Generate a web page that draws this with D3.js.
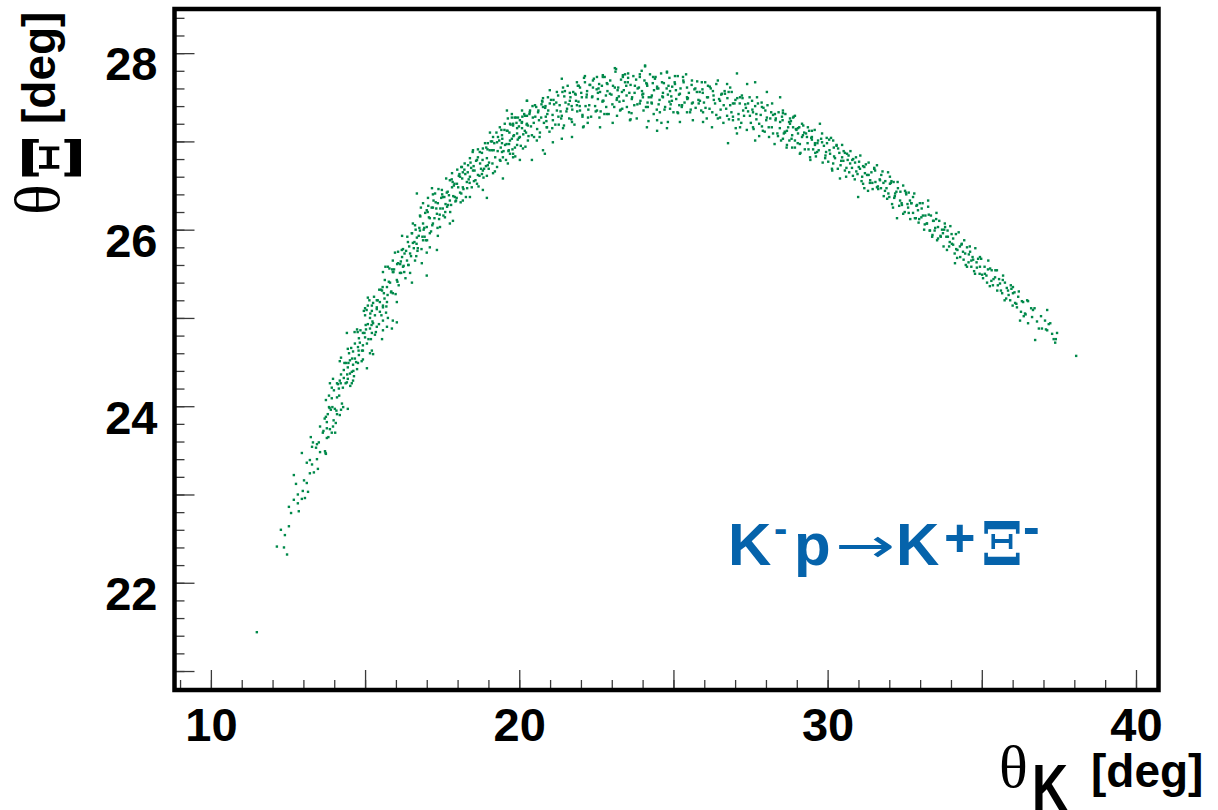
<!doctype html>
<html lang="en">
<head>
  <meta charset="utf-8">
  <title>theta Xi vs theta K</title>
  <script src="https://d3js.org/d3.v7.min.js"></script>
  <style>
    body { margin: 0; background: #fff; }
    svg { display: block; }
  </style>
</head>
<body>
  <script type="text/javascript">
    // scatter points: [thetaK, thetaXi] in degrees
    var events = [
      [11.49,21.44],
      [12.47,22.32],[12.14,22.41],[12.37,22.40],[12.27,22.60],[12.40,22.54],[12.53,22.64],[12.60,22.79],[12.85,22.81],[12.53,22.86],[12.69,22.94],
      [12.82,22.90],[12.95,22.95],[13.05,22.96],[12.82,23.00],[12.98,23.04],[13.15,23.03],[12.76,23.12],[13.02,23.16],[13.11,23.13],[12.69,23.22],
      [13.21,23.24],[13.34,23.25],[13.47,23.29],[13.28,23.34],[13.44,23.40],[13.11,23.36],[13.21,23.39],[12.95,23.47],[13.70,23.49],[13.73,23.46],
      [13.54,23.48],[13.41,23.53],[13.28,23.54],[13.44,23.57],[13.31,23.59],[13.50,23.59],[13.24,23.65],[13.76,23.64],[13.63,23.70],[13.86,23.74],
      [13.54,23.77],[13.76,23.82],[13.96,23.77],[14.05,23.81],[13.92,23.70],[13.79,23.91],[13.73,23.88],[14.09,23.91],[14.18,23.90],[13.89,23.96],
      [14.02,23.97],[13.83,23.99],[14.22,23.96],[14.44,23.97],[13.73,24.07],[13.92,24.09],[14.09,24.10],[13.83,24.12],[13.99,24.18],[14.15,24.20],
      [13.92,24.21],[14.28,24.21],[14.09,24.26],[13.86,24.26],[13.96,24.31],[14.18,24.29],[14.31,24.32],[14.22,24.36],[14.44,24.31],[14.57,24.26],
      [14.41,24.27],[14.61,24.29],[14.64,24.34],[14.51,24.37],[14.31,24.41],[14.57,24.39],[14.74,24.42],[14.44,24.44],[14.61,24.47],[14.77,24.49],
      [14.38,24.49],[14.18,24.51],[14.51,24.52],[14.67,24.54],[14.22,24.55],[14.93,24.53],[15.06,24.43],[14.80,24.58],[14.48,24.60],[14.61,24.62],
      [14.90,24.63],[14.44,24.65],[14.77,24.67],[14.93,24.69],[14.67,24.71],[14.83,24.72],[15.06,24.71],[15.22,24.63],[15.26,24.59],[15.16,24.60],
      [14.80,24.77],[15.00,24.78],[15.19,24.76],[14.93,24.83],[15.22,24.83],[15.32,24.81],[15.55,24.76],[14.41,24.83],[14.74,24.87],[15.03,24.87],
      [15.16,24.88],[15.38,24.90],[15.58,24.86],[15.09,24.93],[15.26,24.94],[15.45,24.93],[15.71,24.90],[15.87,24.88],[15.58,24.97],[15.74,25.00],
      [15.16,25.00],[15.32,25.03],[15.00,25.03],[15.48,25.07],[15.68,25.06],[14.96,25.08],[15.22,25.08],[15.38,25.12],[15.09,25.14],[15.58,25.14],
      [16.03,24.95],[15.90,24.97],[15.48,25.18],[15.26,25.17],[15.71,25.18],[16.03,25.18],
      [15.09,25.23],[15.38,25.20],[15.22,25.14],[15.58,25.12],[15.00,25.11],[15.55,25.31],[15.71,25.35],[15.90,25.28],[15.81,25.40],[15.64,25.43],
      [16.03,25.43],[16.13,25.51],[15.90,25.52],[15.58,25.52],[15.74,25.58],[16.23,25.58],[16.46,25.51],[16.52,25.40],[16.07,25.62],[16.36,25.65],
      [15.90,25.65],[16.62,25.65],[17.00,25.48],[16.84,25.62],[16.20,25.69],[16.46,25.73],[15.97,25.74],[16.23,25.78],[16.71,25.79],[17.00,25.74],
      [17.10,25.80],[17.33,25.77],[16.55,25.85],[16.39,25.86],[16.88,25.88],[16.68,25.91],[16.20,25.93],[17.10,25.96],[17.36,25.93],[16.52,25.96],
      [16.78,25.99],[17.00,26.03],[16.62,26.05],[17.20,26.07],[16.88,26.07],[17.43,26.03],[17.10,26.13],[16.78,26.16],[17.33,26.18],[17.59,26.14],
      [17.75,26.07],[17.85,26.10],[17.00,26.22],[17.20,26.25],[17.52,26.24],[17.36,26.30],[17.69,26.28],[16.88,26.30],[17.75,26.33],[17.04,26.36],
      [17.52,26.37],[17.91,26.37],[18.17,26.33],[16.68,26.41],[17.27,26.41],[17.65,26.42],[18.08,26.42],[18.40,26.37],[17.17,26.47],[17.49,26.45],
      [17.82,26.48],[18.17,26.48],[17.98,26.52],[17.75,26.56],[18.30,26.54],[18.63,26.52],[18.82,26.45],[18.95,26.36],[18.08,26.60],[18.40,26.60],
      [17.82,26.64],[18.17,26.65],[18.66,26.62],[18.50,26.67],[18.82,26.67],[19.15,26.64],[19.47,26.58],[18.14,26.71],[18.34,26.73],[18.73,26.75],
      [18.98,26.73],[19.28,26.71],[18.40,26.81],[18.66,26.82],[18.95,26.81],[19.37,26.79],[19.63,26.75],[19.80,26.82],[18.50,26.90],[18.82,26.92],
      [19.11,26.90],[19.44,26.88],[19.70,26.86],[18.98,26.98],[19.28,26.99],[19.54,26.96],[19.93,26.96],[20.12,26.92],[19.15,27.05],[19.44,27.07],
      [19.76,27.03],[20.02,27.05],[20.28,27.01],[19.05,27.10],[19.60,27.12],[19.93,27.15],[20.18,27.12],[19.37,27.16],[19.80,27.20],[20.09,27.22],
      [20.28,27.18],[19.63,27.26],[19.96,27.27],[20.25,27.29],[19.76,27.31],[20.09,27.35],[20.25,27.46],[19.60,27.35],
      [19.47,26.82],[19.66,26.90],[19.44,26.98],[19.70,27.01],[19.86,26.93],[19.68,27.10],[19.93,27.09],[19.80,27.18],[20.09,27.15],[20.02,27.24],
      [20.25,27.20],[19.76,27.27],[20.18,27.29],[20.44,27.27],[20.35,27.35],[20.61,27.33],[20.51,27.41],[20.77,27.39],[20.74,27.46],[20.99,27.43],
      [20.93,27.50],[20.25,27.46],[20.41,27.07],[20.67,27.10],[20.90,27.16],[21.09,27.24],[20.57,27.01],[20.77,26.90],[20.02,26.79],[19.80,26.86],
      [21.22,27.35],[21.38,27.29],[21.55,27.37],[21.26,27.52],[21.64,27.46],[21.87,27.41],[21.48,27.57],[21.81,27.54],[22.03,27.50],[22.20,27.57],
      [21.90,27.63],[22.13,27.67],[22.39,27.61],[22.62,27.56],[22.36,27.50],[21.97,27.35],[22.23,27.27],[21.71,27.22],[21.42,27.15],[22.07,27.16],
      [22.52,27.35],[22.71,27.46],[22.84,27.66],[22.94,27.54],[23.10,27.61],[22.71,27.75],[22.52,27.73],[23.17,27.49],[23.33,27.56],[23.43,27.67],
      [23.53,27.77],[23.10,27.83],[23.36,27.73],[23.66,27.50],[23.49,27.39],[23.27,27.35],[22.84,27.31],[22.62,27.16],[23.17,27.29],[21.71,27.05],
      [21.38,27.03],[21.09,26.99],[20.83,26.86],[20.41,26.79],
      [23.75,27.63],[23.91,27.73],[24.08,27.86],[23.98,27.57],[24.14,27.65],[24.30,27.52],[24.47,27.60],[24.63,27.67],[24.34,27.73],[24.79,27.78],
      [24.66,27.50],[24.89,27.57],[25.05,27.65],[25.21,27.54],[25.44,27.61],[25.31,27.73],[25.60,27.69],[25.76,27.56],[25.86,27.46],[25.60,27.43],
      [25.28,27.41],[24.89,27.37],[24.56,27.33],[24.17,27.39],[23.91,27.43],[24.47,27.24],[24.79,27.15],[25.21,27.22],[25.63,27.24],[25.96,27.33],
      [26.09,27.50],[26.12,27.63],[25.92,27.67],[26.28,27.57],[23.81,27.26],[24.14,27.16],[23.59,27.24],[24.47,27.12],[24.82,27.22],[25.44,27.33],
      [25.15,27.32],[25.96,27.22],[26.25,27.16],[24.30,27.43],[24.01,27.50],[24.95,27.46],[25.44,27.50],[26.77,26.98],
      [26.51,27.46],[26.67,27.54],[26.84,27.61],[26.93,27.43],[27.16,27.50],[27.39,27.65],[27.42,27.43],[27.58,27.33],[27.26,27.35],[27.71,27.50],
      [27.87,27.39],[28.03,27.27],[28.20,27.43],[28.29,27.31],[28.46,27.22],[28.55,27.35],[28.78,27.26],[28.88,27.16],[29.04,27.09],[29.17,27.20],
      [29.33,27.05],[29.49,27.12],[29.59,26.98],[29.69,27.01],[27.58,27.16],[27.90,27.12],[28.23,27.09],[28.55,27.03],[28.85,26.93],[29.10,26.86],
      [29.43,26.82],[26.93,27.24],[27.16,27.16],[26.74,27.29],[26.51,27.27],[27.06,27.09],[27.65,27.01],[28.68,27.12],[28.94,27.29],[28.46,27.50],
      [28.03,27.56],[27.65,27.67],[26.74,27.65],[26.44,27.69],[27.06,27.77],
      [28.55,27.32],[28.78,27.20],[28.62,27.10],[28.88,27.27],[29.04,27.15],[29.20,27.07],[28.94,27.01],[28.68,26.96],[29.36,27.16],[29.49,27.05],
      [29.59,26.96],[29.75,27.20],[29.82,27.09],[29.66,26.88],[29.98,26.98],[30.08,26.86],[29.92,26.81],[30.18,27.01],[30.34,26.92],[30.47,26.82],
      [30.18,26.75],[30.63,26.86],[30.73,26.75],[30.56,26.67],[30.89,26.76],[31.05,26.69],[30.82,26.61],[31.21,26.64],[31.38,26.56],[31.15,26.52],
      [31.54,26.67],[31.60,26.48],[31.31,26.44],[31.70,26.56],[30.99,26.37],[30.40,26.58],[30.14,26.69],
      [31.86,26.44],[32.02,26.52],[31.93,26.35],[32.19,26.41],[32.35,26.33],[32.12,26.25],[32.51,26.44],[32.61,26.25],[32.77,26.37],[32.45,26.18],
      [32.93,26.22],[33.09,26.16],[32.83,26.13],[33.26,26.33],[33.22,26.07],[33.42,26.10],[33.32,25.99],[33.58,26.03],[33.74,25.96],[33.55,25.88],
      [33.90,25.92],[34.07,25.83],[33.87,25.77],[34.29,25.81],[34.46,25.73],[34.20,25.68],[34.62,25.75],[34.72,25.66],[34.52,25.58],[34.13,25.62],
      [32.25,26.13],[32.02,26.60],[32.67,26.33],[33.39,25.92],[33.81,26.03],[34.94,25.69],
      [34.94,25.58],[35.10,25.50],[35.27,25.56],[35.17,25.40],[35.43,25.46],[35.59,25.39],[35.36,25.37],[35.75,25.40],[35.85,25.31],[35.66,25.28],
      [36.01,25.28],[35.92,25.20],[36.18,25.24],[36.14,25.12],[36.47,25.20],[36.40,25.05],[36.24,24.97],[36.66,25.09],[36.50,24.94],[37.05,24.97],
      [37.12,24.86],[37.28,24.82],[37.44,24.83],[37.38,24.72],[37.12,25.09],[36.73,24.75],[38.06,24.57],[34.78,25.50],[35.49,25.54],[36.01,25.35],
      [24.08,27.85],[23.14,27.82],[23.36,27.75],[23.53,27.72],[23.91,27.76],[24.40,27.71],[24.79,27.79],[25.05,27.74],[22.71,27.73],[22.39,27.69],
      [22.13,27.74],[21.87,27.67],[21.42,27.61],[20.99,27.58],[21.38,27.71],[21.64,27.55],[21.97,27.61],[22.30,27.64],[22.57,27.60],[22.86,27.65],
      [23.19,27.58],[23.47,27.63],[23.84,27.60],[24.12,27.66],[24.47,27.62],[24.84,27.63],[20.77,27.49],[21.11,27.47],[21.46,27.51],[21.83,27.53],
      [22.18,27.50],[22.55,27.55],[22.81,27.52],[23.23,27.51],[23.57,27.55],[23.99,27.53],[24.28,27.50],[24.66,27.55],[24.93,27.51],[20.85,27.40],
      [21.20,27.44],[21.60,27.42],[21.92,27.45],[22.27,27.41],[22.70,27.45],[23.02,27.42],[23.38,27.46],[23.73,27.41],[24.16,27.44],[24.52,27.42],
      [24.87,27.45],[20.91,27.31],[21.34,27.34],[21.72,27.36],[22.05,27.30],[22.48,27.34],[22.76,27.31],[23.29,27.36],[23.64,27.32],[24.03,27.35],
      [24.36,27.31],[24.71,27.36],[25.13,27.33],[20.88,27.23],[21.28,27.19],[21.69,27.25],[22.22,27.21],[22.60,27.27],[23.03,27.21],[23.61,27.25],
      [24.19,27.23],[24.61,27.21],[21.07,27.15],[22.09,27.17],
      [29.82,26.99],[29.95,26.88],[30.05,27.02],[30.21,26.83],[30.29,26.95],[30.44,26.78],[30.52,26.89],[30.61,26.70],[30.68,26.84],[30.80,26.79],
      [30.93,26.66],[31.02,26.77],[31.12,26.60],[31.19,26.71],[31.33,26.62],[31.45,26.53],[31.51,26.70],[31.63,26.49],[31.74,26.62],[31.81,26.53],
      [31.97,26.41],[32.07,26.55],[32.16,26.36],[32.28,26.47],[32.40,26.30],[32.55,26.40],[32.63,26.19],[32.71,26.30],[32.88,26.27],[32.97,26.12],
      [33.05,26.24],[33.15,26.06],[33.28,26.17],[33.47,25.99],[33.52,26.12],[33.66,25.93],[33.78,26.00],[33.96,25.86],[34.02,25.95],[34.17,25.78],
      [34.35,25.84],[34.41,25.66],[34.58,25.72],[34.66,25.58],[34.83,25.63],[35.01,25.49],[35.20,25.55],[35.31,25.42],[35.52,25.37],[35.68,25.43],
      [35.79,25.22],[35.96,25.33],[36.08,25.17],[36.30,25.19],[36.36,25.02],[36.60,25.11],[36.79,24.96],[36.95,24.88],[37.17,24.93],[37.33,24.76],
      [17.05,26.27],[17.18,26.05],[17.29,26.31],[17.40,26.12],[17.47,26.36],[17.60,26.20],[17.68,26.43],[17.79,26.28],[17.88,26.50],[17.95,26.33],
      [18.04,26.61],[18.12,26.41],[18.22,26.68],[18.31,26.47],[18.44,26.70],[18.53,26.55],[18.60,26.78],[18.71,26.61],[18.79,26.87],[18.86,26.69],
      [18.93,26.93],[19.02,26.76],[19.12,27.00],[19.22,26.82],[19.31,27.05],[19.40,26.93],[19.52,27.13],[19.59,26.97],[19.70,27.20],[19.81,27.06],
      [19.89,27.27],[19.99,27.04],[20.10,27.28],[20.22,27.10],[20.33,27.31],[20.47,27.21],[20.55,27.39],[20.64,27.24],[20.72,27.42],[20.86,27.28],
      [15.52,25.32],[15.63,25.22],[15.77,25.41],[15.85,25.30],[15.94,25.55],[16.05,25.41],[16.16,25.64],[16.27,25.52],[16.33,25.76],[16.41,25.60],
      [16.58,25.79],[16.66,25.70],[16.74,25.93],[16.83,25.78],[16.92,26.02],[16.97,25.88],
      [25.08,27.58],[25.19,27.41],[25.33,27.67],[25.47,27.49],[25.56,27.36],[25.71,27.60],[25.82,27.43],[25.95,27.55],[26.04,27.38],[26.18,27.62],
      [26.31,27.47],[26.39,27.30],[26.55,27.53],[26.63,27.41],[26.79,27.56],[26.88,27.33],[27.01,27.47],[27.11,27.25],[27.22,27.52],[27.35,27.38],
      [27.48,27.29],[27.55,27.46],[27.69,27.31],[27.78,27.20],[27.86,27.44],[27.98,27.35],[28.09,27.16],[28.17,27.33],[28.31,27.24],[28.39,27.06],
      [28.52,27.28],[28.61,27.11],[28.75,27.22],[28.83,27.03],[28.97,27.14],[29.10,26.97],[29.24,27.10],[29.38,26.91],[29.47,27.04],[29.60,26.87],
      [13.65,23.72],[13.72,23.47],[13.76,23.75],[13.85,23.98],[13.98,23.84],[14.03,23.70],[14.12,24.25],[14.16,24.12],[14.25,24.03],[14.33,24.49],
      [14.37,24.26],[14.46,24.49],[14.52,24.23],[14.58,24.54],[14.66,24.84],[14.71,24.50],[14.79,24.63],[14.85,24.86],[14.89,24.51],[14.98,24.83],
      [15.05,25.09],[15.11,24.76],[15.17,25.05],[15.24,24.96],[15.29,25.24],[15.35,24.84],[15.41,25.20],[15.46,25.32],[15.53,25.03],[15.61,25.28],
      [15.66,25.58],[15.73,25.26],[15.79,25.56],[15.84,25.29],[15.92,25.52],[15.99,25.27],[13.69,23.86],[13.81,23.65],[13.94,23.99],[14.07,23.95],
      [14.21,24.26],[14.29,23.99],[14.42,24.36],[14.55,24.66],[14.62,24.40],[14.76,24.84],[14.93,24.63],[15.02,24.92],[15.14,25.20],[15.21,24.92],
      [15.38,25.10],[15.57,25.35],[15.69,25.13],[15.88,25.55],
      [16.04,25.61],[16.09,25.37],[16.14,25.61],[16.19,25.77],[16.25,25.59],[16.31,25.45],[16.37,25.92],[16.43,25.81],[16.49,25.70],[16.55,26.07],
      [16.60,25.86],[16.64,26.00],[16.70,25.76],[16.76,26.02],[16.81,26.25],[16.86,25.92],[16.90,26.00],[16.95,26.19],[17.01,25.88],[17.07,26.14],
      [16.07,25.75],[16.17,25.51],[16.28,25.73],[16.40,25.60],[16.52,25.96],[16.67,25.84],[16.79,26.15],[16.93,25.92],[17.03,26.20],
      [17.14,25.98],[17.16,26.25],[17.22,26.33],[17.25,26.13],[17.31,26.24],[17.35,26.02],[17.38,26.46],[17.44,26.24],[17.50,26.40],[17.54,26.16],
      [17.57,26.37],[17.63,26.58],[17.66,26.26],[17.72,26.39],[17.76,26.20],[17.81,26.57],[17.86,26.38],[17.90,26.52],[17.93,26.32],[17.99,26.68],
      [18.02,26.48],[18.06,26.63],[18.10,26.31],[18.15,26.58],[17.20,26.40],[17.42,26.17],[17.61,26.29],[17.84,26.54],[17.97,26.36],[18.12,26.71],
      [18.19,26.46],[18.23,26.75],[18.27,26.37],[18.33,26.65],[18.36,26.57],[18.42,26.76],[18.46,26.48],[18.49,26.88],[18.55,26.67],[18.58,26.56],
      [18.63,26.79],[18.68,26.49],[18.72,26.88],[18.76,26.69],[18.81,26.79],[18.84,26.59],[18.89,26.98],[18.92,26.72],[18.97,26.91],[19.01,26.69],
      [19.04,26.90],[18.25,26.63],[18.39,26.53],[18.52,26.72],[18.66,26.91],[18.79,26.63],[18.95,26.61],
      [19.08,27.00],[19.13,26.75],[19.17,26.90],[19.21,26.66],[19.26,27.10],[19.30,26.89],[19.35,27.01],[19.39,26.78],[19.45,27.03],[19.49,26.89],
      [19.53,27.20],[19.57,26.79],[19.62,27.12],[19.67,26.97],[19.72,27.19],[19.78,26.91],[19.83,27.07],[19.87,26.83],[19.91,27.21],[19.95,27.02],
      [19.99,27.17],[19.19,26.98],[19.42,27.13],[19.65,26.89],[19.85,27.27],
      [20.05,26.95],[20.08,27.21],[20.13,27.08],[20.16,27.31],[20.20,26.94],[20.24,27.19],[20.30,27.06],[20.34,27.33],[20.38,27.17],[20.43,27.40],
      [20.48,27.05],[20.52,27.28],[20.58,27.14],[20.62,27.35],[20.66,27.05],[20.71,27.27],[20.75,27.45],[20.80,27.21],[20.84,27.38],[20.89,27.16],
      [20.94,27.35],[20.98,27.11],[21.03,27.47],[21.08,27.30],[21.13,27.42],[21.17,27.19],[21.22,27.56],[21.27,27.28],[21.31,27.41],
      [21.36,27.26],[21.40,27.56],[21.45,27.18],[21.50,27.44],[21.53,27.34],[21.57,27.63],[21.62,27.26],[21.66,27.50],[21.70,27.40],[21.75,27.56],
      [21.79,27.19],[21.84,27.46],[21.88,27.34],[21.93,27.63],[21.96,27.40],[22.01,27.55],[22.05,27.28],[22.10,27.72],[22.15,27.40],[22.19,27.53],
      [22.24,27.36],[22.28,27.64],[22.33,27.28],[22.37,27.51],[22.42,27.71],[22.46,27.40],[22.51,27.59],[22.55,27.48],[22.59,27.65],
      [22.64,27.34],[22.68,27.63],[22.73,27.46],[22.77,27.73],[22.82,27.39],[22.86,27.57],[22.90,27.31],[22.95,27.69],[22.99,27.53],[23.04,27.63],
      [23.08,27.39],[23.12,27.79],[23.16,27.47],[23.21,27.61],[23.25,27.45],[23.30,27.70],[23.34,27.37],[23.39,27.58],[23.43,27.76],[23.48,27.52],
      [23.52,27.67],[23.56,27.33],[23.61,27.64],[23.65,27.48],[23.70,27.74],[23.74,27.55],[23.79,27.70],[23.83,27.42],[23.88,27.61],
      [23.93,27.46],[23.97,27.80],[24.02,27.54],[24.06,27.69],[24.11,27.39],[24.15,27.63],[24.20,27.50],[24.24,27.76],[24.29,27.44],[24.33,27.66],
      [24.37,27.58],[24.42,27.73],[24.46,27.36],[24.51,27.60],[24.55,27.47],[24.60,27.77],[24.64,27.51],[24.69,27.66],[24.73,27.39],[24.78,27.60],
      [24.82,27.53],[24.87,27.72],[24.91,27.42],[24.96,27.62],[25.00,27.33],[25.04,27.67],[25.09,27.48],[25.14,27.74],[25.18,27.53],[25.23,27.60],
      [25.27,27.39],[25.32,27.69],[25.36,27.44],[25.41,27.76],[25.45,27.48],[25.50,27.55],[25.54,27.33],[25.59,27.64],[25.63,27.44],[25.68,27.59],
      [25.72,27.38],[25.77,27.68],[25.81,27.47],[25.85,27.56],
      [25.90,27.35],[25.94,27.59],[25.99,27.44],[26.03,27.67],[26.08,27.26],[26.12,27.50],[26.17,27.37],[26.21,27.60],[26.26,27.33],[26.30,27.52],
      [26.35,27.43],[26.39,27.65],[26.44,27.26],[26.48,27.48],[26.53,27.36],[26.57,27.54],[26.62,27.21],[26.66,27.57],[26.71,27.37],[26.75,27.49],
      [26.80,27.25],[26.84,27.41],[26.89,27.56],[26.93,27.28],[26.98,27.43],[27.02,27.15],[27.07,27.49],[27.11,27.31],[27.15,27.43],
      [27.20,27.21],[27.24,27.49],[27.29,27.29],[27.33,27.42],[27.38,27.13],[27.42,27.34],[27.47,27.50],[27.51,27.21],[27.56,27.36],[27.60,27.14],
      [27.65,27.40],[27.69,27.25],[27.74,27.43],[27.78,27.06],[27.83,27.30],[27.87,27.17],[27.92,27.38],[27.96,27.11],[28.01,27.24],[28.05,27.41],
      [28.10,27.05],[28.14,27.26],[28.19,27.16],[28.23,27.30],[28.28,26.97],[28.32,27.26],[28.37,27.09],[28.41,27.33],[28.45,27.15],
      [28.49,27.01],[28.54,27.24],[28.58,27.09],[28.63,27.31],[28.67,26.93],[28.72,27.16],[28.76,27.01],[28.81,27.23],[28.85,27.07],[28.90,27.28],
      [28.94,26.93],[28.99,27.13],[29.03,26.98],[29.08,27.16],[29.12,26.87],[29.17,27.05],[29.21,27.18],[29.26,26.91],[29.30,27.09],[29.35,26.98],
      [29.40,27.12],[29.44,26.79],[29.49,27.02],[29.53,26.91],[29.58,27.13],[29.62,26.83],[29.67,26.98],[29.71,26.90],
      [29.79,27.03],[29.84,26.76],[29.88,26.95],[29.93,26.84],[29.97,27.04],[30.02,26.77],[30.06,26.90],[30.11,27.04],[30.15,26.67],[30.20,26.93],
      [30.24,26.81],[30.29,26.96],[30.33,26.69],[30.38,26.87],[30.42,26.73],[30.47,26.96],[30.51,26.78],[30.56,26.87],[30.60,26.60],[30.65,26.79],
      [30.70,26.65],[30.74,26.89],[30.79,26.70],[30.83,26.80],[30.88,26.57],[30.92,26.82],[30.97,26.63],[31.01,26.71],[31.06,26.84],[31.10,26.55],
      [31.15,26.72],[31.19,26.47],[31.24,26.74],[31.28,26.62],[31.33,26.76],[31.37,26.53],[31.42,26.65],[31.46,26.46],[31.51,26.69],[31.55,26.54],
      [31.60,26.73],[31.64,26.46],[31.69,26.57],
      [31.73,26.47],[31.78,26.66],[31.82,26.38],[31.87,26.55],[31.91,26.47],[31.96,26.65],[32.00,26.37],[32.05,26.53],[32.09,26.29],[32.14,26.54],
      [32.18,26.38],[32.23,26.43],[32.27,26.54],[32.32,26.27],[32.36,26.43],[32.41,26.28],[32.45,26.50],[32.50,26.20],[32.54,26.42],[32.59,26.29],
      [32.63,26.42],[32.68,26.12],[32.72,26.30],[32.77,26.19],[32.81,26.41],[32.86,26.13],[32.90,26.28],[32.95,26.08],[32.99,26.30],[33.04,26.14],
      [33.08,26.30],[33.13,26.00],[33.17,26.16],[33.22,26.07],[33.26,26.26],[33.31,25.99],
      [33.35,26.16],[33.40,25.94],[33.44,26.10],[33.49,26.02],[33.53,26.19],[33.58,25.90],[33.62,26.10],[33.67,25.92],[33.71,26.00],[33.76,25.81],
      [33.80,26.07],[33.85,25.92],[33.89,25.99],[33.94,25.81],[33.98,26.04],[34.03,25.84],[34.07,25.90],[34.12,25.73],[34.16,25.95],[34.21,25.77],
      [34.25,25.97],[34.30,25.69],[34.34,25.83],[34.39,25.75],[34.43,25.88],[34.48,25.60],[34.52,25.80],[34.57,25.63],[34.61,25.81],[34.66,25.65],
      [34.70,25.69],[34.75,25.53],[34.79,25.79],[34.84,25.57],[34.88,25.67],[34.93,25.50],
      [34.98,25.67],[35.04,25.45],[35.09,25.58],[35.15,25.48],[35.21,25.65],[35.26,25.36],[35.32,25.54],[35.38,25.44],[35.44,25.54],[35.50,25.31],
      [35.56,25.44],[35.62,25.31],[35.69,25.48],[35.74,25.20],[35.81,25.34],[35.87,25.26],[35.94,25.37],[36.00,25.14],[36.06,25.29],[36.12,25.16],
      [36.20,25.30],[36.27,25.07],[36.34,25.18],[36.42,25.04],[36.50,25.19],
      [36.63,25.01],[36.71,25.11],[36.85,24.88],[36.92,25.02],[37.08,24.87],[37.22,24.94],[37.40,24.76]
    ];

    var xMinorTicks = d3.range(9, 41);
    var xMajorTicks = [10, 15, 20, 25, 30, 35, 40];
    var xTickLabels = [10, 20, 30, 40];
    var yMinorTicks = d3.range(104, 143).map(v => v / 5);
    var yMajorTicks = [21, 22, 23, 24, 25, 26, 27, 28];
    var yTickLabels = [22, 24, 26, 28];

    var width = 1218;
    var height = 810;
    var frame = { left: 174.5, right: 1158.5, top: 9, bottom: 690 };
    var sans = "'Liberation Sans', Arial, Helvetica, sans-serif";
    var serif = "'Liberation Serif', 'Times New Roman', serif";
    var greek = "'DejaVu Serif', serif";
    var dotColor = "#00894a";
    var blue = "#0563ab";

    var svg = d3.select("body")
      .append("svg")
      .attr("width", width)
      .attr("height", height);

    var x = d3.scaleLinear().domain([8.82, 40.73]).range([frame.left, frame.right]);
    var y = d3.scaleLinear().domain([20.785, 28.5]).range([frame.bottom, frame.top]);

    // the scatter points
    svg.append("g")
      .selectAll("rect")
      .data(events)
      .join("rect")
      .attr("x", d => x(d[0]) - 1.2)
      .attr("y", d => y(d[1]) - 1.2)
      .attr("width", 2.4)
      .attr("height", 2.4)
      .attr("fill", dotColor);

    // ticks point into the frame, ROOT style
    function styleTicks(g) {
      g.select(".domain").remove();
      g.selectAll("line").attr("stroke", "#3a3a3a").attr("stroke-width", 1.3);
    }

    svg.append("g")
      .attr("transform", "translate(0," + frame.bottom + ")")
      .call(d3.axisBottom(x).tickValues(xMinorTicks).tickSize(-10).tickFormat(""))
      .call(styleTicks);
    svg.append("g")
      .attr("transform", "translate(0," + frame.bottom + ")")
      .call(d3.axisBottom(x).tickValues(xMajorTicks).tickSize(-20).tickFormat(""))
      .call(styleTicks);
    svg.append("g")
      .attr("transform", "translate(" + frame.left + ",0)")
      .call(d3.axisLeft(y).tickValues(yMinorTicks).tickSize(-10).tickFormat(""))
      .call(styleTicks);
    svg.append("g")
      .attr("transform", "translate(" + frame.left + ",0)")
      .call(d3.axisLeft(y).tickValues(yMajorTicks).tickSize(-20).tickFormat(""))
      .call(styleTicks);

    // tick labels
    var xLab = svg.append("g")
      .attr("transform", "translate(0," + frame.bottom + ")")
      .call(d3.axisBottom(x).tickValues(xTickLabels).tickSize(0).tickPadding(18));
    xLab.select(".domain").remove();
    xLab.selectAll("text")
      .attr("font-family", sans).attr("font-weight", "bold").attr("font-size", 47).attr("fill", "#000");

    var yLab = svg.append("g")
      .attr("transform", "translate(" + frame.left + ",0)")
      .call(d3.axisLeft(y).tickValues(yTickLabels).tickSize(0).tickPadding(17));
    yLab.select(".domain").remove();
    yLab.selectAll("text")
      .attr("dy", "0.57em")
      .attr("font-family", sans).attr("font-weight", "bold").attr("font-size", 47).attr("fill", "#000");

    // frame
    svg.append("rect")
      .attr("x", frame.left).attr("y", frame.top)
      .attr("width", frame.right - frame.left)
      .attr("height", frame.bottom - frame.top)
      .attr("fill", "none")
      .attr("stroke", "#000")
      .attr("stroke-width", 4.5);

    // x axis title
    svg.append("text").attr("x", 999).attr("y", 787)
      .attr("font-family", serif).attr("font-size", 60).text("θ");
    svg.append("text").attr("transform", "translate(1032,810) scale(0.78,1)")
      .attr("font-family", sans).attr("font-weight", "bold").attr("font-size", 64).text("K");
    svg.append("text").attr("x", 1091).attr("y", 787)
      .attr("font-family", sans).attr("font-weight", "bold").attr("font-size", 46).text("[deg]");

    // y axis title
    svg.append("text").attr("transform", "translate(59,215) rotate(-90)")
      .attr("font-family", serif).attr("font-size", 64).text("θ");
    svg.append("text").attr("transform", "translate(81,180) rotate(-90) scale(0.8,1)")
      .attr("font-family", greek).attr("font-weight", "bold").attr("font-size", 80).text("Ξ");
    svg.append("text").attr("transform", "translate(55,124) rotate(-90)")
      .attr("font-family", sans).attr("font-weight", "bold").attr("font-size", 46).text("[deg]");

    // reaction label
    var note = svg.append("g").attr("fill", blue).attr("font-family", sans).attr("font-weight", "bold");
    note.append("text").attr("x", 728).attr("y", 565).attr("font-size", 60).text("K");
    note.append("text").attr("x", 774).attr("y", 542).attr("font-size", 40).text("-");
    note.append("text").attr("x", 794).attr("y", 565).attr("font-size", 60).text("p");
    note.append("text").attr("x", 835).attr("y", 562).attr("font-size", 48)
      .attr("font-family", "'DejaVu Sans', sans-serif").attr("font-weight", "normal")
      .attr("textLength", 60).attr("lengthAdjust", "spacingAndGlyphs").text("→");
    note.append("text").attr("x", 896).attr("y", 565).attr("font-size", 60).text("K");
    note.append("text").attr("x", 944).attr("y", 556).attr("font-size", 54).text("+");
    note.append("text").attr("x", 981).attr("y", 565).attr("font-size", 60)
      .attr("font-family", greek).text("Ξ");
    note.append("text").attr("x", 1023).attr("y", 544).attr("font-size", 50).text("-");
  </script>
</body>
</html>
